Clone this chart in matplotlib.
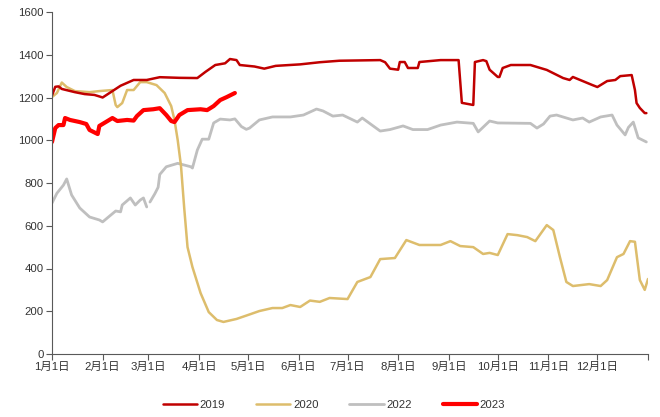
import numpy as np
import matplotlib
matplotlib.use("Agg")
import matplotlib.pyplot as plt

plt.rcParams['font.family'] = ['Liberation Sans', 'Noto Sans CJK SC', 'DejaVu Sans']

# x = day of year (Jan 1 = 0)
d2019 = [0, 2, 4, 6, 14, 20, 26, 29, 31, 34, 39, 42, 50, 58, 66, 78, 89, 94, 100, 106, 109, 113, 115,
         124, 130, 137, 152, 164, 176, 201, 204, 207, 212, 213, 216, 218, 224, 225, 238, 249, 251, 258,
         259, 264, 266, 268, 273, 274, 276, 281, 293, 303, 313, 317, 319, 331, 334, 340, 345, 348, 355,
         357, 358, 360, 363, 364]
v2019 = [1210, 1250, 1252, 1240, 1225, 1216, 1212, 1205, 1200, 1215, 1240, 1255, 1282, 1282, 1295, 1292,
         1291, 1320, 1352, 1360, 1380, 1375, 1352, 1345, 1335, 1348, 1355, 1365, 1372, 1375, 1365, 1335,
         1330, 1366, 1366, 1338, 1338, 1366, 1375, 1375, 1175, 1165, 1366, 1375, 1370, 1330, 1296, 1296,
         1338, 1352, 1352, 1329, 1291, 1282, 1296, 1258, 1249, 1277, 1282, 1300, 1305, 1235, 1174, 1151,
         1127, 1127]

d2020 = [0, 3, 6, 9, 14, 23, 29, 37, 39, 40, 43, 46, 50, 54, 58, 64, 69, 73, 75, 77, 79, 81, 83, 86, 91,
         96, 101, 105, 113, 121, 127, 135, 141, 146, 152, 158, 164, 170, 181, 187, 195, 201, 210, 217, 225,
         238, 244, 250, 258, 264, 268, 273, 279, 285, 291, 296, 303, 307, 311, 315, 319, 329, 336, 340, 346,
         350, 354, 357, 360, 363, 365]
v2020 = [1202, 1221, 1270, 1249, 1230, 1225, 1230, 1235, 1165, 1155, 1174, 1235, 1235, 1272, 1272, 1258,
         1221, 1160, 1095, 1000, 880, 680, 500, 407, 285, 196, 159, 150, 164, 185, 201, 215, 215, 229, 220,
         250, 244, 262, 257, 337, 360, 444, 449, 533, 510, 510, 528, 505, 500, 468, 473, 463, 561, 556, 547,
         528, 603, 580, 455, 337, 318, 327, 318, 346, 453, 468, 528, 525, 346, 300, 351]

d2022 = [0, 3, 7, 9, 12, 17, 23, 29, 31, 36, 39, 42, 43, 48, 51, 54, 56, 58, 59, 60, 63, 65, 66, 70, 77,
         85, 86, 89, 92, 96, 99, 103, 109, 112, 116, 119, 121, 127, 135, 146, 154, 162, 166, 172, 178, 187,
         190, 201, 207, 215, 221, 230, 238, 248, 258, 261, 268, 273, 293, 297, 301, 305, 309, 319, 325, 329,
         336, 343, 346, 351, 353, 356, 359, 364]
v2022 = [706, 752, 790, 819, 744, 683, 641, 627, 618, 650, 669, 665, 697, 730, 697, 720, 730, 688, np.nan,
         711, 750, 780, 840, 876, 892, 876, 870, 954, 1005, 1005, 1081, 1099, 1095, 1100, 1064, 1051, 1057,
         1095, 1109, 1109, 1118, 1146, 1137, 1113, 1118, 1085, 1104, 1043, 1050, 1067, 1050, 1050, 1071,
         1085, 1079, 1039, 1090, 1081, 1079, 1057, 1076, 1113, 1118, 1095, 1104, 1085, 1109, 1118, 1071,
         1025, 1060, 1085, 1011, 992]

d2023 = [0, 2, 4, 7, 8, 11, 17, 21, 23, 28, 29, 34, 37, 40, 46, 50, 52, 56, 62, 66, 70, 73, 75, 78, 83,
         91, 95, 99, 103, 107, 112]
v2023 = [992, 1057, 1071, 1071, 1104, 1095, 1085, 1076, 1048, 1029, 1067, 1090, 1104, 1090, 1095, 1092,
         1113, 1141, 1145, 1150, 1118, 1090, 1085, 1118, 1141, 1145, 1141, 1160, 1188, 1202, 1221]

month_starts = [0, 31, 59, 90, 120, 151, 181, 212, 243, 273, 304, 334]
month_labels = ['1月1日', '2月1日', '3月1日', '4月1日', '5月1日', '6月1日', '7月1日', '8月1日',
                '9月1日', '10月1日', '11月1日', '12月1日']
y_ticks = [0, 200, 400, 600, 800, 1000, 1200, 1400, 1600]

fig = plt.figure(figsize=(6.6, 4.17), dpi=100)
ax = fig.add_axes([52/660, 1-354/417, (648-52)/660, (354-12)/417])

ax.plot(d2022, v2022, color='#BFBFBF', lw=2.0, label='2022', solid_capstyle='round')
ax.plot(d2020, v2020, color='#DDBD6C', lw=1.8, label='2020', solid_capstyle='round')
ax.plot(d2019, v2019, color='#C00000', lw=1.8, label='2019', solid_capstyle='round')
ax.plot(d2023, v2023, color='#FF0000', lw=3.0, label='2023', solid_capstyle='round')

ax.set_xlim(0, 365)
ax.set_ylim(0, 1600)
ax.set_xticks(month_starts + [365])
ax.set_xticklabels(month_labels + [''])
ax.set_yticks(y_ticks)
for s in ['top', 'right']:
    ax.spines[s].set_visible(False)
for s in ['left', 'bottom']:
    ax.spines[s].set_color('#595959')
    ax.spines[s].set_linewidth(0.8)
ax.tick_params(axis='both', direction='out', length=4, width=0.8, color='#595959',
               labelsize=8.2, labelcolor='#333333', pad=2)

handles, labels = ax.get_legend_handles_labels()
order = [labels.index(l) for l in ['2019', '2020', '2022', '2023']]
fig.legend([handles[i] for i in order], [labels[i] for i in order], loc='center',
           bbox_to_anchor=(334/660, 1-405/417), ncol=4, frameon=False, fontsize=8.2,
           handlelength=3.0, handletextpad=0.25, columnspacing=2.7, labelcolor='#333333')

fig.savefig('out.png', dpi=100)
